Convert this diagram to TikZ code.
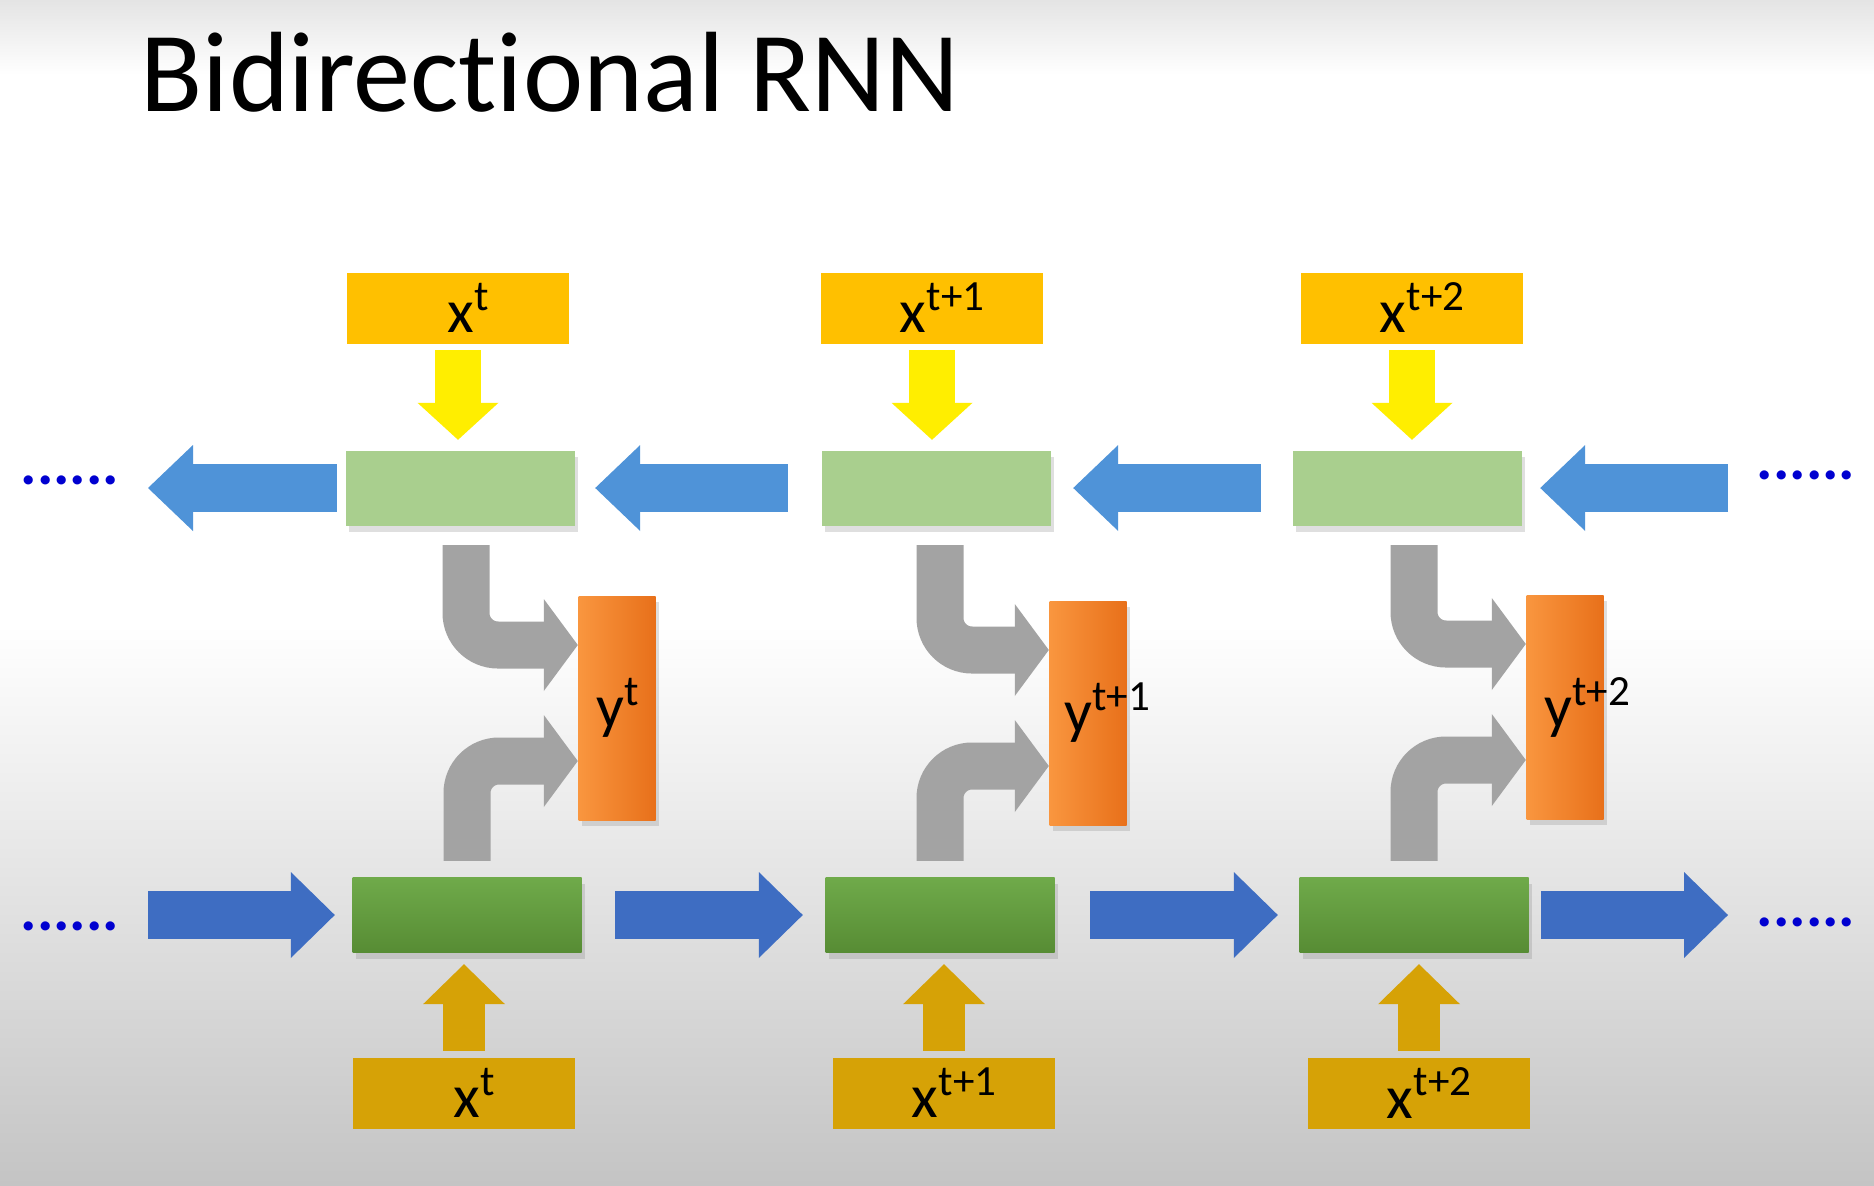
\documentclass[tikz,border=0pt]{standalone}
\usepackage{fontspec}
\setmainfont{Carlito}[Ligatures=NoCommon]
\usetikzlibrary{arrows.meta,shadows}

\definecolor{xgold}{HTML}{FFC000}
\definecolor{xdark}{HTML}{D6A206}
\definecolor{backgreen}{HTML}{A9CF8E}
\definecolor{fwdtop}{HTML}{6FAA4A}
\definecolor{fwdbot}{HTML}{578C34}
\definecolor{ylight}{HTML}{F9963F}
\definecolor{ydark}{HTML}{E8701A}
\definecolor{lblue}{HTML}{4F93D8}
\definecolor{dblue}{HTML}{3E6DC2}
\definecolor{arrowgray}{HTML}{A3A3A3}
\definecolor{arrowyellow}{HTML}{FFEE00}
\definecolor{dotblue}{HTML}{0000D0}
\definecolor{bggray}{HTML}{C4C4C4}
\definecolor{bgtop}{HTML}{E4E4E4}

\begin{document}
\begin{tikzpicture}[x=1cm,y=1cm,
  lbl/.style={font=\fontsize{17.5}{20}\selectfont},
  xbox/.style={lbl, inner sep=0pt, minimum width=2.22cm, minimum height=0.71cm,
    execute at begin node={\hspace*{2.2mm}}},
  cell/.style={inner sep=0pt, minimum width=2.29cm, minimum height=0.75cm,
    drop shadow={shadow xshift=0.3mm, shadow yshift=-0.6mm, opacity=0.25}},
  backcell/.style={cell, fill=backgreen},
  fwdcell/.style={cell, top color=fwdtop, bottom color=fwdbot},
  outbox/.style={inner sep=0pt, minimum width=0.77cm, minimum height=2.24cm,
    left color=ylight, right color=ydark,
    drop shadow={shadow xshift=0.3mm, shadow yshift=-0.6mm, opacity=0.25}},
  dots/.style={text=dotblue, inner sep=0pt, font=\fontsize{17.5}{20}\selectfont\bfseries},
  backarrow/.style={draw=lblue, line width=4.8mm,
    -{Triangle[width=8.6mm 0 0, length=4.5mm 0 0, line width=0pt]}},
  fwdarrow/.style={draw=dblue, line width=4.8mm,
    -{Triangle[width=8.6mm 0 0, length=4.4mm 0 0, line width=0pt]}},
  inarrow/.style={draw=arrowyellow, line width=4.6mm, shorten <=0.6mm, shorten >=1mm,
    -{Triangle[width=8.1mm 0 0, length=3.7mm 0 0, line width=0pt]}},
  uparrow/.style={draw=xdark, line width=4.2mm, shorten <=0.6mm, shorten >=1.1mm,
    -{Triangle[width=8.2mm 0 0, length=4mm 0 0, line width=0pt]}},
  mergearrow/.style={draw=arrowgray, line width=4.7mm, rounded corners=3.2mm,
    -{Triangle[width=9.2mm 0 0, length=3.4mm 0 0, line width=0pt]}}]

  % slide background
  \useasboundingbox (0,0) rectangle (18.74,11.85);
  \fill[white] (0,0) rectangle (18.74,11.85);
  \shade[top color=white, bottom color=bggray] (0,0) rectangle (18.74,5.6);
  \shade[top color=bgtop, bottom color=white] (0,11.1) rectangle (18.74,11.85);

  \node[anchor=base west, inner sep=0pt, font=\fontsize{32.5}{36}\selectfont] (title) at (1.40,10.74) {Bidirectional RNN};

  % inputs on top, backward states
  \node[xbox, fill=xgold] (xt1) at (4.58,8.77) {x\textsuperscript{t}};
  \node[xbox, fill=xgold] (xt2) at (9.32,8.77) {x\textsuperscript{t+1}};
  \node[xbox, fill=xgold] (xt3) at (14.12,8.77) {x\textsuperscript{t+2}};
  \node[backcell] (b1) at (4.60,6.97) {};
  \node[backcell] (b2) at (9.36,6.97) {};
  \node[backcell] (b3) at (14.07,6.97) {};

  % outputs
  \node[outbox] (y1) at (6.17,4.77) {};
  \node[outbox] (y2) at (10.88,4.72) {};
  \node[outbox] (y3) at (15.65,4.78) {};
  \node[lbl, anchor=west, inner sep=0pt] (ly1) at ([xshift=1.8mm]y1.west) {y\textsuperscript{t}};
  \node[lbl, anchor=west, inner sep=0pt] (ly2) at ([xshift=1.5mm]y2.west) {y\textsuperscript{t+1}};
  \node[lbl, anchor=west, inner sep=0pt] (ly3) at ([xshift=1.8mm]y3.west) {y\textsuperscript{t+2}};

  % forward states, inputs below
  \node[fwdcell] (f1) at (4.67,2.70) {};
  \node[fwdcell] (f2) at (9.40,2.70) {};
  \node[fwdcell] (f3) at (14.14,2.70) {};
  \node[xbox, fill=xdark] (xb1) at (4.64,0.92) {x\textsuperscript{t}};
  \node[xbox, fill=xdark] (xb2) at (9.44,0.92) {x\textsuperscript{t+1}};
  \node[xbox, fill=xdark] (xb3) at (14.19,0.92) {x\textsuperscript{t+2}};

  \node[dots] (dtl) at (0.70,7.05) {......};
  \node[dots] (dtr) at (18.06,7.10) {......};
  \node[dots] (dbl) at (0.70,2.59) {......};
  \node[dots] (dbr) at (18.06,2.63) {......};
  \coordinate (tl) at (1.48,6.97);
  \coordinate (tr) at (17.28,6.97);
  \coordinate (bl) at (1.48,2.70);
  \coordinate (br) at (17.28,2.70);

  % backward chain
  \draw[backarrow, shorten <=0.8mm] (b1.west) -- (tl);
  \draw[backarrow, shorten <=3.3mm, shorten >=2mm] (b2.west) -- (b1.east);
  \draw[backarrow, shorten <=3.1mm, shorten >=2.2mm] (b3.west) -- (b2.east);
  \draw[backarrow, shorten >=1.8mm] (tr) -- (b3.east);

  % forward chain
  \draw[fwdarrow, shorten >=1.7mm] (bl) -- (f1.west);
  \draw[fwdarrow, shorten <=3.3mm, shorten >=2.2mm] (f1.east) -- (f2.west);
  \draw[fwdarrow, shorten <=3.5mm, shorten >=2.1mm] (f2.east) -- (f3.west);
  \draw[fwdarrow, shorten <=1.2mm] (f3.east) -- (br);

  % inputs into states
  \draw[inarrow] (xt1.south) -- (xt1.south |- b1.north);
  \draw[inarrow] (xt2.south) -- (xt2.south |- b2.north);
  \draw[inarrow] (xt3.south) -- (xt3.south |- b3.north);
  \draw[uparrow] (xb1.north) -- (xb1.north |- f1.south);
  \draw[uparrow] (xb2.north) -- (xb2.north |- f2.south);
  \draw[uparrow] (xb3.north) -- (xb3.north |- f3.south);

  % both states feed the output
  \draw[mergearrow, shorten <=1.9mm] ([xshift=0.6mm]b1.south) |- ([yshift=6.3mm]y1.west);
  \draw[mergearrow, shorten <=1.6mm] (f1.north) |- ([yshift=-5.3mm]y1.west);
  \draw[mergearrow, shorten <=1.9mm] ([xshift=0.4mm]b2.south) |- ([yshift=6.3mm]y2.west);
  \draw[mergearrow, shorten <=1.6mm] (f2.north) |- ([yshift=-5.3mm]y2.west);
  \draw[mergearrow, shorten <=1.9mm] ([xshift=0.7mm]b3.south) |- ([yshift=6.3mm]y3.west);
  \draw[mergearrow, shorten <=1.6mm] (f3.north) |- ([yshift=-5.3mm]y3.west);
\end{tikzpicture}
\end{document}
